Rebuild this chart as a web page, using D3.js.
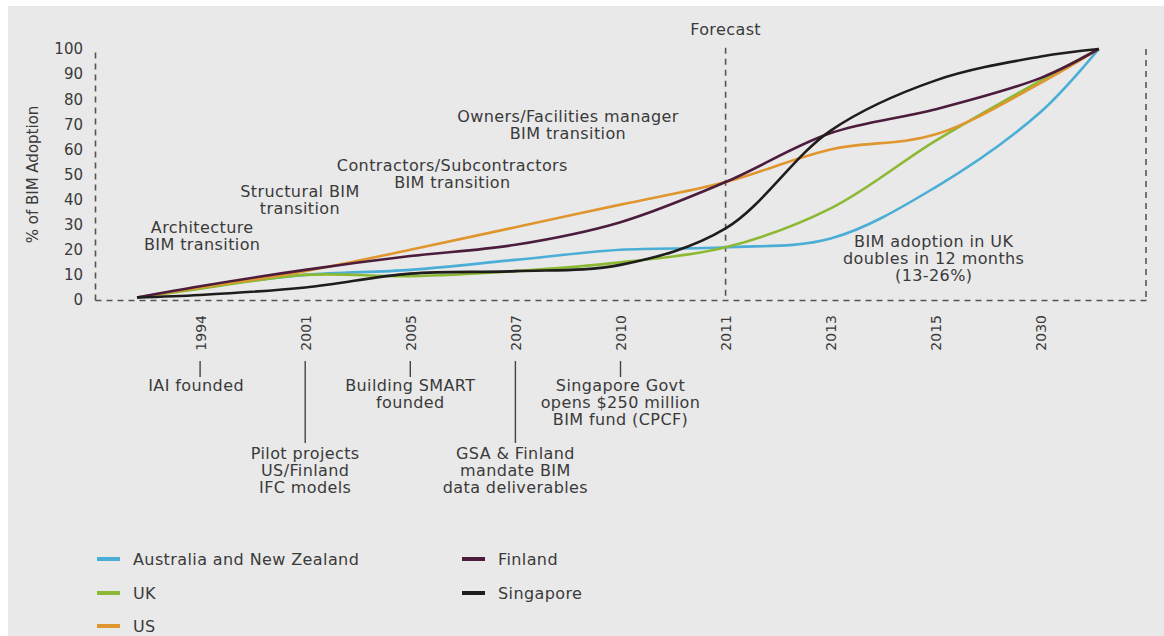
<!DOCTYPE html>
<html>
<head>
<meta charset="utf-8">
<script src="https://cdn.jsdelivr.net/npm/d3@7"></script>
<style>
  html, body { margin: 0; padding: 0; background: #fff; overflow: hidden; }
  text { font-family: "DejaVu Sans", sans-serif; fill: #3a3a3a; }
</style>
</head>
<body>
<div id="chart"></div>
<script>
const width = 1164;
const height = 636;

// x axis categories
const years = ["1994", "2001", "2005", "2007", "2010", "2011", "2013", "2015", "2030"];
// step of each point along the year axis: start, each year, end
const xSteps = [-0.6, 0, 1, 2, 3, 4, 5, 6, 7, 8, 8.55];

// % of BIM adoption per country
const australia = [1, 5, 10, 12, 16, 20, 21, 24.5, 45, 75, 100];
const uk        = [1, 4.5, 10, 9.5, 11.5, 15, 21, 36.5, 63.5, 87.5, 100];
const us        = [1, 5, 11.5, 20, 29, 38, 47, 60, 66, 86.5, 100];
const finland   = [1, 5.5, 12, 17.5, 22, 31, 47, 66.5, 76, 88.5, 100];
const singapore = [1, 2, 5, 10.5, 11.5, 14, 28.5, 67.5, 87.5, 97, 100];

const seriesNames = ["Australia and New Zealand", "UK", "US", "Finland", "Singapore"];
const seriesValues = [australia, uk, us, finland, singapore];
const seriesColors = ["#4aaed6", "#8cb933", "#e0962f", "#4b1c3c", "#1f1c1c"];

const svg = d3.select("#chart")
  .append("svg")
  .attr("width", width)
  .attr("height", height);

svg.append("rect")
  .attr("x", 8).attr("y", 6)
  .attr("width", width).attr("height", height)
  .attr("fill", "#e9e9e9");

const x = d3.scaleLinear().domain([-1, 9]).range([95, 1146]);
const y = d3.scaleLinear().domain([0, 100]).range([300, 49]);

const dash = "6,5";
const axisColor = "#555";
const fontSize = "16px";
const spacing = "0.4px";

// y axis
const yAxis = svg.append("g")
  .attr("transform", `translate(${x(-1)},0)`)
  .call(d3.axisLeft(y).ticks(10).tickSize(0).tickPadding(12));
yAxis.select(".domain").attr("stroke", axisColor).attr("stroke-width", 1.6).attr("stroke-dasharray", dash);
yAxis.selectAll("text").style("font-size", "15px").attr("fill", "#3a3a3a");

svg.append("text")
  .attr("transform", `translate(38,${y(50)}) rotate(-90)`)
  .attr("text-anchor", "middle")
  .style("font-size", "15px")
  .text("% of BIM Adoption");

// x axis
const xAxis = svg.append("g")
  .attr("transform", `translate(0,${y(0)})`)
  .call(d3.axisBottom(x)
    .tickValues(d3.range(years.length))
    .tickFormat(i => years[i])
    .tickSize(0)
    .tickSizeOuter(0));
xAxis.select(".domain").attr("stroke", axisColor).attr("stroke-width", 1.6).attr("stroke-dasharray", dash);
xAxis.selectAll("text")
  .attr("transform", "rotate(-90)")
  .attr("x", -15)
  .attr("y", 0)
  .attr("dy", "0.35em")
  .attr("text-anchor", "end")
  .attr("fill", "#3a3a3a")
  .style("font-size", "14px");

// right frame line
svg.append("line")
  .attr("x1", x(9)).attr("x2", x(9))
  .attr("y1", y(100)).attr("y2", y(0))
  .attr("stroke", axisColor).attr("stroke-width", 1.6).attr("stroke-dasharray", dash);

// forecast line
svg.append("line")
  .attr("x1", x(5)).attr("x2", x(5))
  .attr("y1", y(100.5)).attr("y2", y(0))
  .attr("stroke", axisColor).attr("stroke-width", 1.6).attr("stroke-dasharray", dash);
svg.append("text")
  .attr("x", x(5)).attr("y", 35)
  .attr("text-anchor", "middle")
  .style("font-size", fontSize)
  .style("letter-spacing", spacing)
  .text("Forecast");

// lines
const line = d3.line()
  .x((d, i) => x(xSteps[i]))
  .y(d => y(d))
  .curve(d3.curveCatmullRom.alpha(0.5));

svg.append("g")
  .selectAll("path")
  .data(seriesValues)
  .join("path")
  .attr("d", d => line(d))
  .attr("fill", "none")
  .attr("stroke", (d, i) => seriesColors[i])
  .attr("stroke-width", 2.6);

// phase notes in the plot
const phaseNotes = [
  { lines: ["Architecture", "BIM transition"], step: 0.02, top: 227 },
  { lines: ["Structural BIM", "transition"], step: 0.95, top: 191 },
  { lines: ["Contractors/Subcontractors", "BIM transition"], step: 2.4, top: 165 },
  { lines: ["Owners/Facilities manager", "BIM transition"], step: 3.5, top: 116 },
  { lines: ["BIM adoption in UK", "doubles in 12 months", "(13-26%)"], step: 6.98, top: 241 }
];

phaseNotes.forEach(n => {
  const t = svg.append("text")
    .attr("text-anchor", "middle")
    .style("font-size", fontSize)
    .style("letter-spacing", spacing);
  n.lines.forEach((s, k) => {
    t.append("tspan")
      .attr("x", x(n.step))
      .attr("y", n.top + k * 17)
      .attr("dy", "0.35em")
      .text(s);
  });
});

// timeline events under the axis
const events = [
  { idx: 0, long: false, lines: ["IAI founded"] },
  { idx: 1, long: true, lines: ["Pilot projects", "US/Finland", "IFC models"] },
  { idx: 2, long: false, lines: ["Building SMART", "founded"] },
  { idx: 3, long: true, lines: ["GSA & Finland", "mandate BIM", "data deliverables"] },
  { idx: 4, long: false, lines: ["Singapore Govt", "opens $250 million", "BIM fund (CPCF)"] }
];

events.forEach(e => {
  const lineEnd = e.long ? 443 : 377;
  const textTop = e.long ? 453 : 385;
  svg.append("line")
    .attr("x1", x(e.idx)).attr("x2", x(e.idx))
    .attr("y1", 361).attr("y2", lineEnd)
    .attr("stroke", "#444").attr("stroke-width", 1.4);
  const t = svg.append("text")
    .attr("text-anchor", "middle")
    .style("font-size", fontSize)
    .style("letter-spacing", spacing);
  e.lines.forEach((s, k) => {
    t.append("tspan")
      .attr("x", x(e.idx) - (e.idx === 0 ? 4 : 0))
      .attr("y", textTop + k * 17)
      .attr("dy", "0.35em")
      .text(s);
  });
});

// legend
const legendPos = [[97, 559], [97, 593], [97, 626], [462, 559], [462, 593]];
const legend = svg.append("g")
  .selectAll("g")
  .data(seriesNames)
  .join("g")
  .attr("transform", (d, i) => `translate(${legendPos[i][0]},${legendPos[i][1]})`);

legend.append("line")
  .attr("x1", 0).attr("x2", 23)
  .attr("stroke", (d, i) => seriesColors[i])
  .attr("stroke-width", 4);

legend.append("text")
  .attr("x", 36)
  .attr("dy", "0.35em")
  .style("font-size", fontSize)
  .style("letter-spacing", spacing)
  .text(d => d);
</script>
</body>
</html>
